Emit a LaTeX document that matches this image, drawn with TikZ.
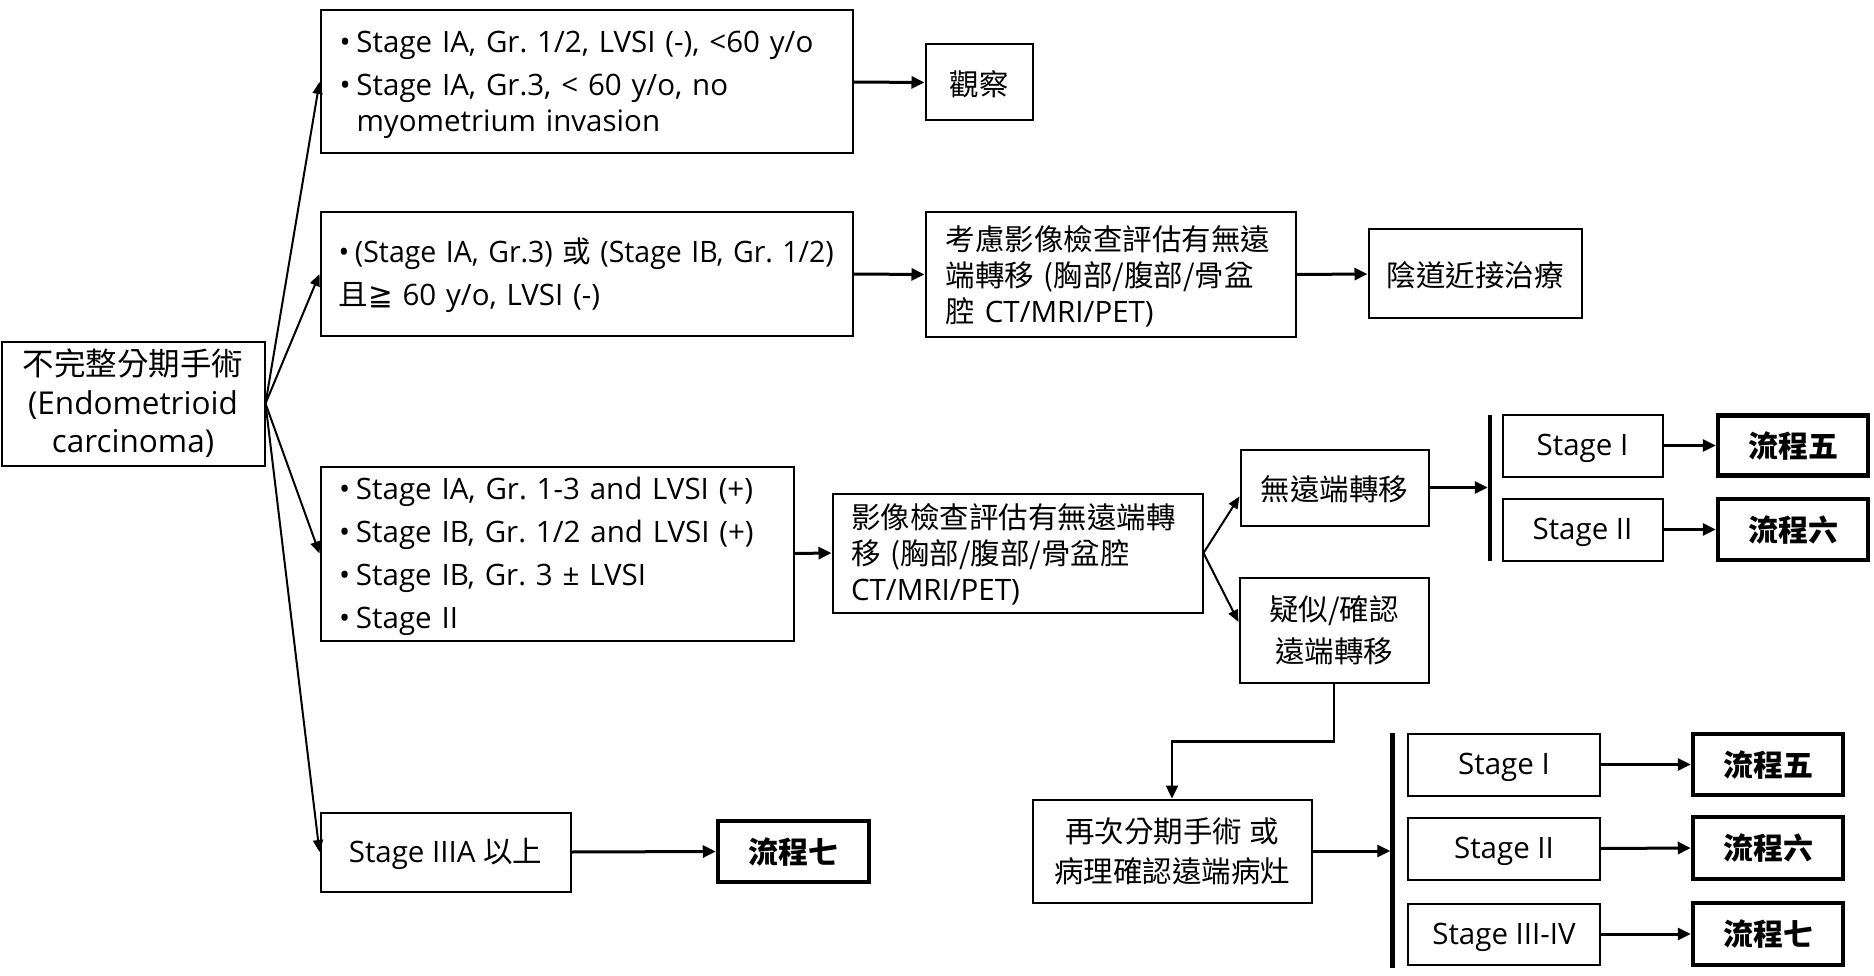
\documentclass[tikz,border=0pt]{standalone}
\usepackage{fontspec}
\usepackage{graphicx}
\setmainfont{Open Sans}
\newfontfamily\cjkf{Noto Sans CJK TC}
\newfontfamily\djv{DejaVu Sans}
\usetikzlibrary{arrows.meta,calc}
\frenchspacing
\newcommand\cj[1]{{\cjkf #1}}
\newcommand\bi[1]{\mbox{\makebox[17pt][l]{•}#1}}
\begin{document}
\begin{tikzpicture}[x=1pt,y=-1pt,
  font=\fontsize{29.5pt}{36pt}\selectfont\frenchspacing,
  box/.style={draw, line width=2pt, inner sep=0pt, align=center,
    execute at begin node={\rule{0pt}{28pt}}},
  tbox/.style={draw, line width=4.5pt, inner sep=0pt, align=center,
    font=\fontsize{30pt}{36pt}\selectfont\cjkf\bfseries},
  arr/.style={-{Triangle[length=13pt,width=12pt]}, line width=3pt},
  sarr/.style={-{Triangle[length=12pt,width=10pt]}, line width=2pt},
  bar/.style={line width=4.5pt}]
\useasboundingbox (0,0) rectangle (1874,976);

% left column
\node[box, minimum width=263pt, minimum height=124pt,
  font=\fontsize{31.5pt}{38.5pt}\selectfont] (start) at (133,403.5)
  {\cj{不完整分期手術}\\(Endometrioid\\carcinoma)};

\node[box, minimum width=532pt, minimum height=143pt, text width=494pt, align=left] (b1) at (586.5,82)
  {\bi{Stage IA, Gr. 1/2, LVSI (-), <60 y/o}\\[7pt]\bi{Stage IA, Gr.3, < 60 y/o, no}\\\hspace*{17pt}myometrium invasion};

\node[box, minimum width=532pt, minimum height=123pt, text width=496pt, align=left] (b2) at (586.5,274)
  {\scalebox{0.965}[1]{\bi{(Stage IA, Gr.3) \cj{或} (Stage IB, Gr. 1/2)}}\\[7pt]\cj{且}{\djv ≧} 60 y/o, LVSI (-)};

\node[box, minimum width=473pt, minimum height=174pt, text width=436pt, align=left] (b3) at (557,553.5)
  {\bi{Stage IA, Gr. 1-3 and LVSI (+)}\\[7pt]\bi{Stage IB, Gr. 1/2 and LVSI (+)}\\[7pt]\bi{Stage IB, Gr. 3 ± LVSI}\\[7pt]\bi{Stage II}};

\node[box, minimum width=250pt, minimum height=79pt] (b4) at (445.5,852)
  {Stage IIIA \cj{以上}};

\node[tbox, minimum width=151pt, minimum height=61pt] (p7a) at (793.5,851.5) {流程七};

% second column
\node[box, minimum width=107pt, minimum height=76pt] (obs) at (979,82.5) {\cj{觀察}};

\node[box, minimum width=370pt, minimum height=124pt, text width=330pt, align=left] (eval1) at (1110.5,274.5)
  {\cj{考慮影像檢查評估有無遠}\\\cj{端轉移 (胸部/腹部/骨盆}\\\cj{腔} CT/MRI/PET)};

\node[box, minimum width=213pt, minimum height=89pt] (vag) at (1475,274) {\cj{陰道近接治療}};

\node[box, minimum width=370pt, minimum height=119pt, text width=333pt, align=left] (eval2) at (1017.5,553)
  {\cj{影像檢查評估有無遠端轉}\\\cj{移 (胸部/腹部/骨盆腔}\\CT/MRI/PET)};

\node[box, minimum width=188pt, minimum height=76pt] (nomet) at (1334.5,487.5) {\cj{無遠端轉移}};

\node[box, minimum width=189pt, minimum height=105pt, font=\fontsize{29.5pt}{42pt}\selectfont] (susp) at (1334,630)
  {\cj{疑似/確認}\\\cj{遠端轉移}};

\node[box, minimum width=279pt, minimum height=103pt, font=\fontsize{29.5pt}{40pt}\selectfont] (restage) at (1172,851)
  {\cj{再次分期手術 或}\\\cj{病理確認遠端病灶}};

% upper right group
\coordinate (ubt) at (1490,415);
\coordinate (ubb) at (1490,561);
\draw[bar] (ubt) -- (ubb);
\node[box, minimum width=160pt, minimum height=62pt] (us1) at (1582.5,445.5) {Stage I};
\node[box, minimum width=160pt, minimum height=62pt] (us2) at (1582.5,529.5) {Stage II};
\node[tbox, minimum width=150pt, minimum height=60pt] (up5) at (1793,445.5) {流程五};
\node[tbox, minimum width=150pt, minimum height=61pt] (up6) at (1793,529.5) {流程六};

% lower right group
\coordinate (lbt) at (1392.5,733);
\coordinate (lbb) at (1392.5,968);
\draw[bar] (lbt) -- (lbb);
\node[box, minimum width=192pt, minimum height=62pt] (ls1) at (1504,764.5) {Stage I};
\node[box, minimum width=192pt, minimum height=62pt] (ls2) at (1504,848.5) {Stage II};
\node[box, minimum width=192pt, minimum height=61pt] (ls3) at (1504,934) {Stage III-IV};
\node[tbox, minimum width=150pt, minimum height=61pt] (lp5) at (1768,764.5) {流程五};
\node[tbox, minimum width=150pt, minimum height=62pt] (lp6) at (1768,848) {流程六};
\node[tbox, minimum width=150pt, minimum height=62pt] (lp7) at (1768,934) {流程七};

% connectors
\draw[sarr] (start.east) -- (b1.west);
\draw[sarr] (start.east) -- (b2.west);
\draw[sarr] (start.east) -- (b3.west);
\draw[sarr] (start.east) -- (b4.west);

\draw[arr] (b1.east) -- (obs.west);
\draw[arr] (b2.east) -- (eval1.west);
\draw[arr] (eval1.east) -- (vag.west);
\draw[arr] (b3.east) -- (eval2.west);
\draw[arr] (b4.east) -- (p7a.west);

\draw[sarr] (eval2.east) -- ($(nomet.west)+(0,9)$);
\draw[sarr] (eval2.east) -- ($(susp.west)+(0,-8)$);

\draw[arr, shorten >=2.25pt] (nomet.east) -- (nomet.east -| ubt);
\draw[arr] (us1.east) -- (up5.west);
\draw[arr] (us2.east) -- (up6.west);

\draw[line width=2.5pt, -{Triangle[length=13pt,width=12pt]}] (susp.south) -- ++(0,58) -| (restage.north);
\draw[arr, shorten >=2.25pt] (restage.east) -- (restage.east -| lbt);
\draw[arr] (ls1.east) -- (lp5.west);
\draw[arr] (ls2.east) -- (lp6.west);
\draw[arr] (ls3.east) -- (lp7.west);
\end{tikzpicture}
\end{document}
